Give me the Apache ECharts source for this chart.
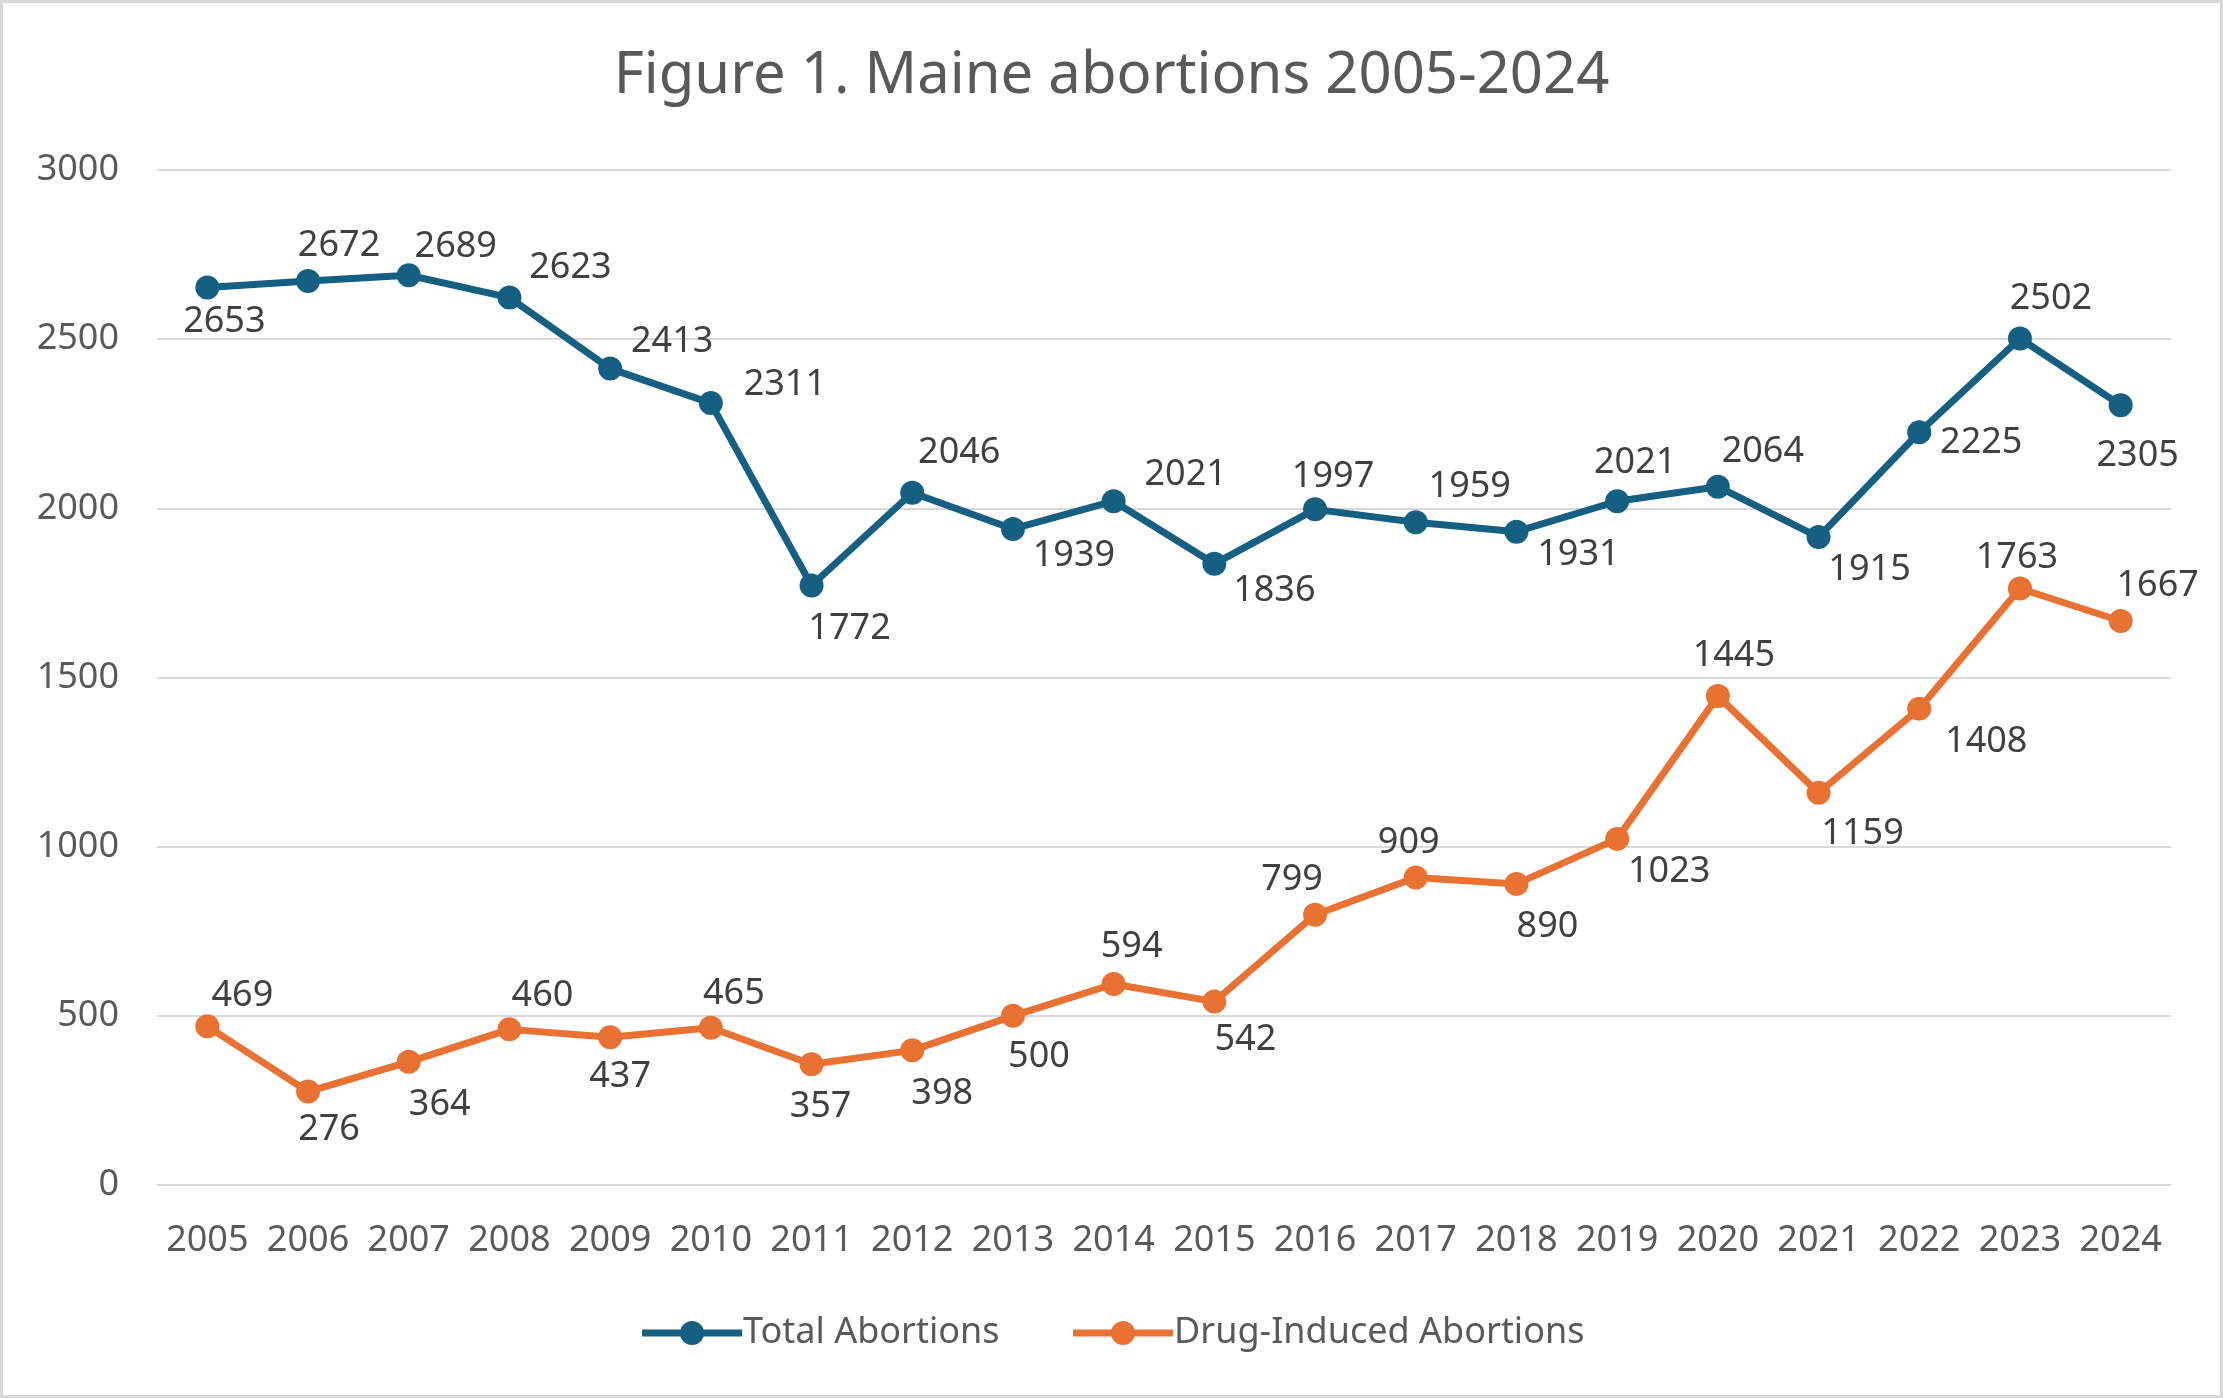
<!DOCTYPE html>
<html>
<head>
<meta charset="utf-8">
<script src="https://cdn.jsdelivr.net/npm/echarts@6/dist/echarts.min.js"></script>
<style>
html,body{margin:0;padding:0;background:#fff;}
#chart{width:2223px;height:1398px;}
</style>
</head>
<body>
<div id="chart"></div>
<script>
const years = ['2005','2006','2007','2008','2009','2010','2011','2012','2013','2014','2015','2016','2017','2018','2019','2020','2021','2022','2023','2024'];
const totalAbortions = [2653,2672,2689,2623,2413,2311,1772,2046,1939,2021,1836,1997,1959,1931,2021,2064,1915,2225,2502,2305];
const drugInduced = [469,276,364,460,437,465,357,398,500,594,542,799,909,890,1023,1445,1159,1408,1763,1667];
const yTicks = [0,500,1000,1500,2000,2500,3000];

const totalOffsets = [[17,34],[31,-35],[47,-28],[61,-30],[62,-27],[74,-18],[38,43],[47,-40],[61,27],[72,-26],[60,27],[18,-33],[54,-35],[62,23],[18,-38],[45,-35],[51,33],[62,11],[31,-40],[17,51]];
const drugOffsets = [[35,-31],[21,38],[31,43],[33,-34],[10,40],[23,-34],[9,43],[30,43],[26,41],[18,-37],[31,38],[-23,-35],[-7,-35],[31,43],[52,33],[16,-40],[44,41],[67,33],[-3,-31],[37,-35]];

const FONT = '"Noto Sans", sans-serif';
function build(values, offsets){
  return values.map((v,i)=>({value:v,label:{offset:offsets[i]}}));
}
const chart = echarts.init(document.getElementById('chart'));
const labelStyle = {show:true, position:'inside', color:'#404040', fontSize:36, fontFamily:FONT};
chart.setOption({
  backgroundColor:'#fff',
  animation:false,
  title:{text:'Figure 1. Maine abortions 2005-2024', left:'center', top:42,
    textStyle:{fontFamily:FONT, fontSize:58, fontWeight:'normal', color:'#595959'}},
  graphic:[{type:'rect', shape:{x:1.5,y:1.5,width:2220,height:1395}, style:{fill:null, stroke:'#d9d9d9', lineWidth:3}, silent:true}],
  legend:{bottom:42, left:'center', itemWidth:100, itemHeight:30, itemGap:70,
    lineStyle:{width:7},
    textStyle:{fontFamily:FONT, fontSize:36, color:'#595959', padding:[0,0,0,-4]},
    data:['Total Abortions','Drug-Induced Abortions']},
  grid:{left:157, right:52, top:170, bottom:213, containLabel:false},
  xAxis:{type:'category', data:years, boundaryGap:true,
    axisLine:{show:false}, axisTick:{show:false},
    axisLabel:{color:'#595959', fontSize:36, fontFamily:FONT, margin:38, interval:0}},
  yAxis:{type:'value', min:yTicks[0], max:yTicks[yTicks.length-1], interval:500,
    axisLine:{show:false}, axisTick:{show:false},
    axisLabel:{color:'#595959', fontSize:36, fontFamily:FONT, margin:38, formatter:v=>String(v)},
    splitLine:{lineStyle:{color:'#d9d9d9', width:2}}},
  series:[
    {name:'Total Abortions', type:'line', data:build(totalAbortions,totalOffsets),
      symbol:'circle', symbolSize:24, lineStyle:{color:'#156082', width:7},
      itemStyle:{color:'#156082'}, label:labelStyle},
    {name:'Drug-Induced Abortions', type:'line', data:build(drugInduced,drugOffsets),
      symbol:'circle', symbolSize:24, lineStyle:{color:'#E97132', width:7},
      itemStyle:{color:'#E97132'}, label:labelStyle}
  ]
});
</script>
</body>
</html>
